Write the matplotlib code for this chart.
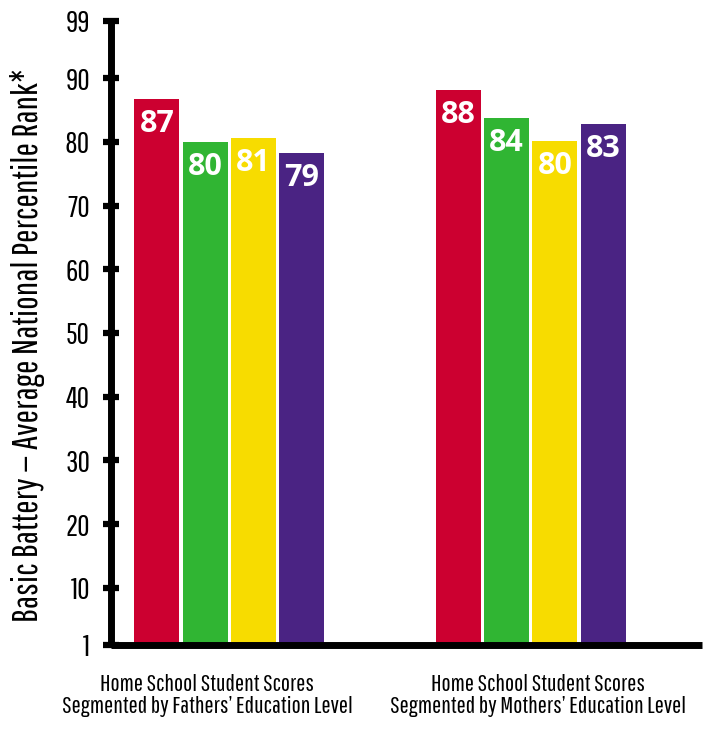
import numpy as np
import matplotlib
matplotlib.use("Agg")
import matplotlib.pyplot as plt

# ======================
# Data
# ======================
groups = ["Home School Student Scores\nSegmented by Fathers\u2019 Education Level",
          "Home School Student Scores\nSegmented by Mothers\u2019 Education Level"]
fathers_vals = [86.7, 80.0, 80.6, 78.3]
mothers_vals = [88.1, 83.7, 80.1, 82.8]
fathers_labels = ["87", "80", "81", "79"]
mothers_labels = ["88", "84", "80", "83"]
yticks = [1, 10, 20, 30, 40, 50, 60, 70, 80, 90, 99]
colors = ["#CC0030", "#30B533", "#F7DC00", "#4A2383"]

NARROW = ["Pathway Gothic One", "DejaVu Sans"]
BOLD = ["Open Sans", "DejaVu Sans"]

# ======================
# Figure
# ======================
fig = plt.figure(figsize=(7.07, 7.29), dpi=100)
ax = fig.add_axes([111/707, 1 - 645/729, 591/707, 624/729])

group_offsets = [0, 6.25]
bar_w = 0.93
for g, (vals, labs) in enumerate([(fathers_vals, fathers_labels), (mothers_vals, mothers_labels)]):
    xs = np.arange(len(vals)) + group_offsets[g]
    bars = ax.bar(xs, np.array(vals) - 1, bottom=1, width=bar_w, color=colors, zorder=2)
    for b, v, lab in zip(bars, vals, labs):
        ax.annotate(lab, (b.get_x() + b.get_width() / 2, v), xytext=(0, -7),
                    textcoords="offset points", ha="center", va="top",
                    color="white", fontsize=22, fontweight="bold",
                    family=BOLD, zorder=3)

ax.set_xlim(-0.95, 11.3)
ax.set_ylim(1, 99)

for s in ["top", "right"]:
    ax.spines[s].set_visible(False)
for s in ["left", "bottom"]:
    ax.spines[s].set_linewidth(5)
    ax.spines[s].set_capstyle("butt")

ax.set_yticks(yticks)
ax.set_yticklabels([str(t) for t in yticks], family=NARROW, fontsize=22)
ax.tick_params(axis="y", direction="inout", length=12, width=4.5, pad=9)

ax.set_xticks([1.05, 7.9])
ax.set_xticklabels(groups, family=NARROW, fontsize=17.5, linespacing=1.05)
ax.tick_params(axis="x", length=0, pad=21)

ax.set_ylabel("Basic Battery \u2014 Average National Percentile Rank*",
              family=NARROW, fontsize=26)
ax.yaxis.set_label_coords(-0.112, 0.48)

fig.savefig("out.png", dpi=100)
